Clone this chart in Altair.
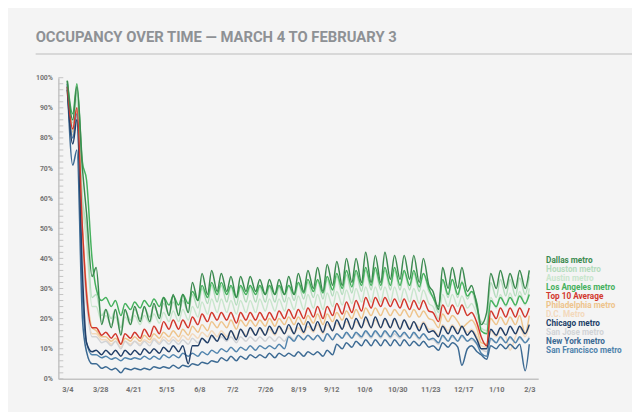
import pandas as pd
import altair as alt

# ---------------------------------------------------------------------------
# Data (percent occupancy: Wednesday highs, Sunday lows)
# ---------------------------------------------------------------------------
series_names = ["Dallas metro", "Houston metro", "Austin metro", "Los Angeles metro",
                "Top 10 Average", "Philadelphia metro", "D.C. Metro", "Chicago metro",
                "San Jose metro", "New York metro", "San Francisco metro"]
series_colors = ["#3b8a4f", "#b4dcbd", "#c9e6cd", "#45b15d", "#d2382d", "#eec48c",
                 "#f3d9bc", "#223f68", "#d1d3d6", "#3c6a93", "#5184ad"]
draw_order = ["Austin metro", "D.C. Metro", "San Jose metro", "Houston metro",
              "Philadelphia metro", "San Francisco metro", "New York metro",
              "Chicago metro", "Los Angeles metro", "Top 10 Average", "Dallas metro"]

wed_dates = pd.date_range("2020-03-04", periods=49, freq="7D")
sun_dates = pd.date_range("2020-03-08", periods=48, freq="7D")

dallas_wed = [99, 97, 55, 37, 23, 23, 23, 24, 24, 25, 27, 28, 28, 32, 35, 36, 35, 34, 34, 34,
              33, 33, 33, 34, 35, 36, 37, 38, 39, 40, 40, 42, 41, 42, 41, 41, 41, 40, 29, 37,
              37, 37, 31, 18, 35, 36, 35, 36, 36]
dallas_sun = [86, 70, 34, 18, 17, 14.5, 18, 19, 19, 20, 21, 21, 22, 26, 28, 29, 29, 27, 29, 29,
              28, 28, 28, 28, 29, 30, 29, 31, 31, 32, 32, 32, 32, 33, 33, 33, 32, 31, 23, 30,
              30, 29, 24, 22, 30, 30, 30, 30]

houston_wed = [98, 95, 50, 28, 23, 23, 22.5, 23, 23.5, 24, 25, 25.5, 26, 28, 30, 31, 31, 30.5,
               30.5, 30.5, 30.5, 30.5, 30.5, 31, 31.5, 32, 32.5, 33, 34, 34.5, 35, 36, 36, 36,
               36, 35.5, 35, 35, 27, 33, 33, 32.5, 29, 19, 32, 33, 33, 33.5, 34]
houston_sun = [85, 60, 27, 21, 20, 17, 19.5, 20, 20.5, 21, 21.5, 21.5, 22, 23.5, 25, 25.5,
               25.5, 24.5, 25.5, 25.5, 25.5, 25.5, 25.5, 26, 26.5, 27, 26.5, 27.5, 28, 28.5,
               29, 29.5, 29.5, 29.5, 29.5, 29.5, 29, 29, 22, 27, 27, 26.5, 23, 18, 27, 27.5,
               27.5, 28]

austin_wed = [97, 93, 45, 24, 21, 20.5, 20.5, 21, 21, 21.5, 22, 22.5, 23, 24, 25.5, 26.5, 26.5,
              26, 26, 26, 26.5, 26.5, 26.5, 27, 27.5, 28, 28, 28.5, 29, 29.5, 30, 30.5, 30.5,
              30.5, 30.5, 30, 30, 29.5, 24, 28, 28, 27.5, 25, 17, 27, 28, 28.5, 29, 30]
austin_sun = [84, 58, 24, 19, 18, 15.5, 18, 18, 18.5, 18.5, 19, 19, 19.5, 20.5, 21.5, 22, 22,
              21.5, 22, 22, 22.5, 22.5, 22.5, 23, 23, 23.5, 23, 24, 24.5, 25, 25.5, 25.5, 25.5,
              25.5, 25.5, 25.5, 25, 25, 20, 24, 24, 23.5, 21, 16, 23.5, 24, 24, 24.5]

la_wed = [99, 98, 66, 30, 27, 26, 25, 25.5, 26, 26.5, 27, 27.5, 28, 29, 31, 32, 32, 31, 31, 31,
          31, 31, 31, 31, 32, 33, 33, 34, 35, 36, 36, 37, 37, 37, 37, 36, 36, 35, 27, 33, 33,
          32, 29, 16, 26, 27, 27, 27.5, 28]
la_sun = [88, 72, 40, 26, 24, 21, 23, 23.5, 24, 24, 24.5, 24.5, 25, 26, 27, 28, 28, 27, 28, 28,
          28, 28, 28, 28, 28.5, 29, 28.5, 29.5, 30, 30.5, 31, 31, 31, 31, 31, 31, 30.5, 30, 24,
          28, 28, 27.5, 25, 15, 24, 24.5, 24.5, 25]

top10_wed = [97, 90, 28, 17, 15.5, 15, 15, 15.5, 16.5, 17.5, 19, 19.5, 19.5, 20.5, 21.5, 22, 22,
             22, 22, 22, 22, 22, 22.5, 23, 23, 23.5, 24, 24, 25, 25.5, 26, 27, 27, 27, 26.5,
             26.5, 26, 26, 22, 24.5, 24.5, 24.5, 22, 14, 22.5, 23.5, 23.5, 23.5, 23.5]
top10_sun = [83, 50, 17, 14.5, 13.5, 11.5, 13.5, 13.5, 14, 15, 16.5, 16.5, 17, 18, 19, 19.5,
             19.5, 18.5, 19.5, 19.5, 19.5, 19.5, 20, 20, 20, 20.5, 20, 21, 21.5, 22, 22.5,
             23.5, 24, 24, 23.5, 23, 23, 22.5, 19, 21.5, 21.5, 21, 18.5, 11, 20, 20.5, 20.5,
             20.5]

philly_wed = [96, 89, 30, 16, 14, 13.5, 13.5, 14, 14.5, 15, 15.5, 16, 16.5, 17.5, 18, 19, 19,
              19.5, 19.5, 19.5, 19.5, 20, 20, 20.5, 20.5, 21, 21.5, 21.5, 22, 22.5, 23, 23.5,
              23.5, 23.5, 23, 23, 23, 22.5, 19.5, 21.5, 21, 17, 19.5, 12, 20, 20.5, 20.5, 21, 21]
philly_sun = [82, 50, 17, 14, 12.5, 11.5, 12.5, 12.5, 13, 13.5, 14, 14, 14.5, 15.5, 16, 17, 17,
              16.5, 17.5, 17.5, 17.5, 17.5, 18, 18, 18, 18.5, 18, 19, 19.5, 20, 20, 21, 21, 21,
              21, 20.5, 20.5, 20, 17, 19, 19, 18.5, 16.5, 11.5, 18, 18, 18, 15]

dc_wed = [95, 88, 28, 15, 13, 12.5, 12.5, 12.5, 13, 13.5, 14, 14, 14.5, 15, 15.5, 16, 16, 16,
          16.5, 16.5, 16.5, 16.5, 17, 17, 17, 17.5, 18, 18, 18.5, 19, 19, 19.5, 19.5, 19.5,
          19.5, 19.5, 19, 19, 16.5, 18, 18, 17.5, 16.5, 11, 16, 16.5, 9.5, 17, 17.5]
dc_sun = [81, 48, 15, 13, 11.5, 10.5, 11.5, 11.5, 12, 12, 12.5, 12.5, 13, 13.5, 14, 14, 14,
          13.5, 14.5, 14.5, 14.5, 14.5, 15, 15, 15, 15.5, 15, 16, 16.5, 16.5, 17, 17, 17, 17,
          17, 17, 17, 16.5, 14.5, 16, 16, 15.5, 14, 10.5, 14, 14, 14, 14]

chicago_wed = [96, 86, 12, 9.5, 9.5, 9.5, 9.5, 9.5, 10, 10, 10.5, 11, 11, 11, 13.5, 14.5, 15,
               16, 16.5, 17, 17, 17.5, 17.5, 18, 18.5, 19, 19, 19, 19.5, 20, 20, 20.5, 20.5,
               20, 20, 19.5, 19, 18.5, 16, 17.5, 17.5, 17.5, 16, 10, 16.5, 17, 17.5, 17.5, 18]
chicago_sun = [78, 35, 9, 8, 8, 7.5, 8, 8, 8.5, 8.5, 9, 9, 5, 11, 12, 12.5, 13, 13, 14, 14.5,
               14.5, 15, 15, 15, 15.5, 16, 15.5, 16, 16.5, 16.5, 17, 17, 17, 17, 16.5, 16.5,
               16, 15.5, 14, 15, 15, 14.5, 13, 10, 14.5, 14.5, 15, 15]

sanjose_wed = [96, 90, 25, 14, 12.5, 12.5, 12.5, 12.5, 12.5, 13, 13, 13, 13, 13.5, 13.5, 14,
               14, 14, 14, 14, 14, 14, 14, 14.5, 14.5, 14.5, 14.5, 15, 15, 15, 15, 15.5, 15.5,
               15.5, 15, 15, 15, 15, 13, 14, 14, 14, 13, 10, 13, 13.5, 13.5, 13.5, 14]
sanjose_sun = [82, 42, 14, 12, 11, 10, 11, 11, 11, 11.5, 11.5, 11.5, 11.5, 12, 12, 12.5, 12.5,
               12, 12.5, 12.5, 12.5, 12.5, 12.5, 13, 13, 13, 12.5, 13, 13.5, 13.5, 13.5, 13.5,
               13.5, 13.5, 13.5, 13.5, 13, 13, 11.5, 12.5, 12.5, 12.5, 11.5, 9, 12, 12, 12, 12]

ny_wed = [98, 76, 9, 5, 4, 3.5, 3.5, 3.5, 3.5, 4, 4, 4.5, 4.5, 5, 5.5, 6, 7, 7.5, 7.5, 8, 8,
          8.5, 8.5, 8.5, 9, 9, 9, 9.5, 11.5, 12, 12.5, 13, 13, 13, 13, 13, 12.5, 12.5, 11, 12,
          12, 4.5, 11, 8, 11, 11.5, 11.5, 11.5, 11.5]
ny_sun = [71, 20, 5, 3.5, 3, 2, 3, 3, 3, 3.5, 3.5, 3.5, 4, 4.5, 5, 5.5, 6, 6, 6.5, 7, 7, 7,
          7.5, 7.5, 7.5, 8, 7.5, 8, 10, 10.5, 11, 11, 11, 11, 11, 11, 11, 10.5, 9.5, 10.5,
          10.5, 10, 9, 6.5, 10, 10, 10, 2.7]

sf_wed = [97, 88, 12, 8, 7.5, 7, 7, 7, 7.5, 7.5, 8, 8, 8.5, 8.5, 9, 9.5, 10, 10.5, 10.5, 11,
          11, 11, 11.5, 14, 14.5, 14.5, 14.5, 15, 15, 15.5, 15.5, 16, 16, 16, 16, 15.5, 15.5,
          15, 13.5, 14.5, 14.5, 14.5, 13.5, 8.5, 13.5, 14, 14, 14, 13.5]
sf_sun = [80, 28, 8, 7, 6.5, 6, 6.5, 6.5, 6.5, 6.5, 7, 7, 7.5, 7.5, 8, 8.5, 9, 9, 9.5, 9.5,
          10, 10, 10, 12.5, 13, 13, 12.5, 13, 13.5, 13.5, 14, 14, 14, 14, 14, 13.5, 13.5, 13,
          12, 12.5, 12.5, 12.5, 11.5, 7.5, 12, 12, 12, 12]

highs = {"Dallas metro": dallas_wed, "Houston metro": houston_wed, "Austin metro": austin_wed,
         "Los Angeles metro": la_wed, "Top 10 Average": top10_wed,
         "Philadelphia metro": philly_wed, "D.C. Metro": dc_wed, "Chicago metro": chicago_wed,
         "San Jose metro": sanjose_wed, "New York metro": ny_wed,
         "San Francisco metro": sf_wed}
lows = {"Dallas metro": dallas_sun, "Houston metro": houston_sun, "Austin metro": austin_sun,
        "Los Angeles metro": la_sun, "Top 10 Average": top10_sun,
        "Philadelphia metro": philly_sun, "D.C. Metro": dc_sun, "Chicago metro": chicago_sun,
        "San Jose metro": sanjose_sun, "New York metro": ny_sun,
        "San Francisco metro": sf_sun}

x_tick_dates = ["2020-03-04", "2020-03-28", "2020-04-21", "2020-05-15", "2020-06-08",
                "2020-07-02", "2020-07-26", "2020-08-19", "2020-09-12", "2020-10-06",
                "2020-10-30", "2020-11-23", "2020-12-17", "2021-01-10", "2021-02-03"]
y_label_values = [0, 10, 20, 30, 40, 50, 60, 70, 80, 90, 100]
y_minor_ticks = list(range(0, 101, 2))

TITLE = "OCCUPANCY OVER TIME \u2014 MARCH 4 TO FEBRUARY 3"
FONT = "Roboto"
AXIS_GREY = "#c3c3c3"
LABEL_GREY = "#737373"

# ---------------------------------------------------------------------------
# Build long table
# ---------------------------------------------------------------------------
frames = []
for name in draw_order:
    frames.append(pd.DataFrame({"date": wed_dates, "pct": highs[name], "series": name}))
    frames.append(pd.DataFrame({"date": sun_dates, "pct": lows[name], "series": name}))
df = pd.concat(frames, ignore_index=True)
df["order"] = df["series"].map({n: i for i, n in enumerate(draw_order)})
df = df.sort_values(["order", "date"]).reset_index(drop=True)


def to_dt(s):
    t = pd.Timestamp(s)
    return alt.DateTime(year=t.year, month=t.month, date=t.day)


color_scale = alt.Scale(domain=series_names, range=series_colors)
x_scale = alt.Scale(domain=[alt.DateTime(year=2020, month=2, date=26, hours=12),
                            alt.DateTime(year=2021, month=2, date=9, hours=12)])
y_scale = alt.Scale(domain=[0, 100], nice=False)
y_axis = alt.Axis(values=y_label_values, labelExpr="datum.value + '%'",
                  ticks=False, grid=False, domainColor=AXIS_GREY,
                  domainWidth=1.5, labelPadding=6, labelFont=FONT,
                  labelFontSize=7, labelFontWeight="bold", labelColor=LABEL_GREY)

lines = (
    alt.Chart(df)
    .mark_line(strokeWidth=1.5, interpolate="monotone")
    .encode(
        x=alt.X("date:T", scale=x_scale, title=None,
                axis=alt.Axis(values=[to_dt(d) for d in x_tick_dates], format="%-m/%-d",
                              ticks=False, grid=False, domainColor=AXIS_GREY,
                              domainWidth=1.5, labelPadding=7, labelFont=FONT,
                              labelFontSize=7.5, labelFontWeight="bold",
                              labelColor=LABEL_GREY)),
        y=alt.Y("pct:Q", scale=y_scale, title=None, axis=y_axis),
        color=alt.Color("series:N", scale=color_scale, legend=None),
        detail="order:O",
    )
)

minor_ticks = (
    alt.Chart(pd.DataFrame({"pct": y_minor_ticks}))
    .mark_rule(color=AXIS_GREY, strokeWidth=1)
    .encode(y=alt.Y("pct:Q", scale=y_scale, title=None, axis=y_axis),
            x=alt.value(0), x2=alt.value(5))
)

underline = (
    alt.Chart(pd.DataFrame({"k": [0]}))
    .mark_rule(color="#cfcfcf", strokeWidth=1.5)
    .encode(x=alt.value(-23), x2=alt.value(590), y=alt.value(-24))
)

legend_text = (
    alt.Chart(pd.DataFrame({"series": series_names}))
    .mark_text(align="left", baseline="middle", font=FONT, fontSize=8.3, fontWeight="bold")
    .encode(
        x=alt.value(494),
        y=alt.Y("series:N", scale=alt.Scale(domain=series_names, range=[181, 281]),
                axis=None),
        text="series:N",
        color=alt.Color("series:N", scale=color_scale, legend=None),
    )
)

chart = (
    alt.layer(alt.layer(minor_ticks, lines, underline), legend_text)
    .resolve_scale(y="independent")
    .properties(
        width=486,
        height=305,
        autosize=alt.AutoSizeParams(type="none"),
        padding={"left": 51, "top": 68, "right": 95, "bottom": 31},
        background="#f4f4f4",
        title=alt.TitleParams(TITLE, anchor="start", frame="group", font=FONT,
                              fontSize=15, fontWeight="bold", color="#8e9195",
                              dx=-23, offset=8),
    )
    .configure_view(strokeOpacity=0)
)

chart.save("out.html", embed_options={"renderer": "svg", "actions": False})
